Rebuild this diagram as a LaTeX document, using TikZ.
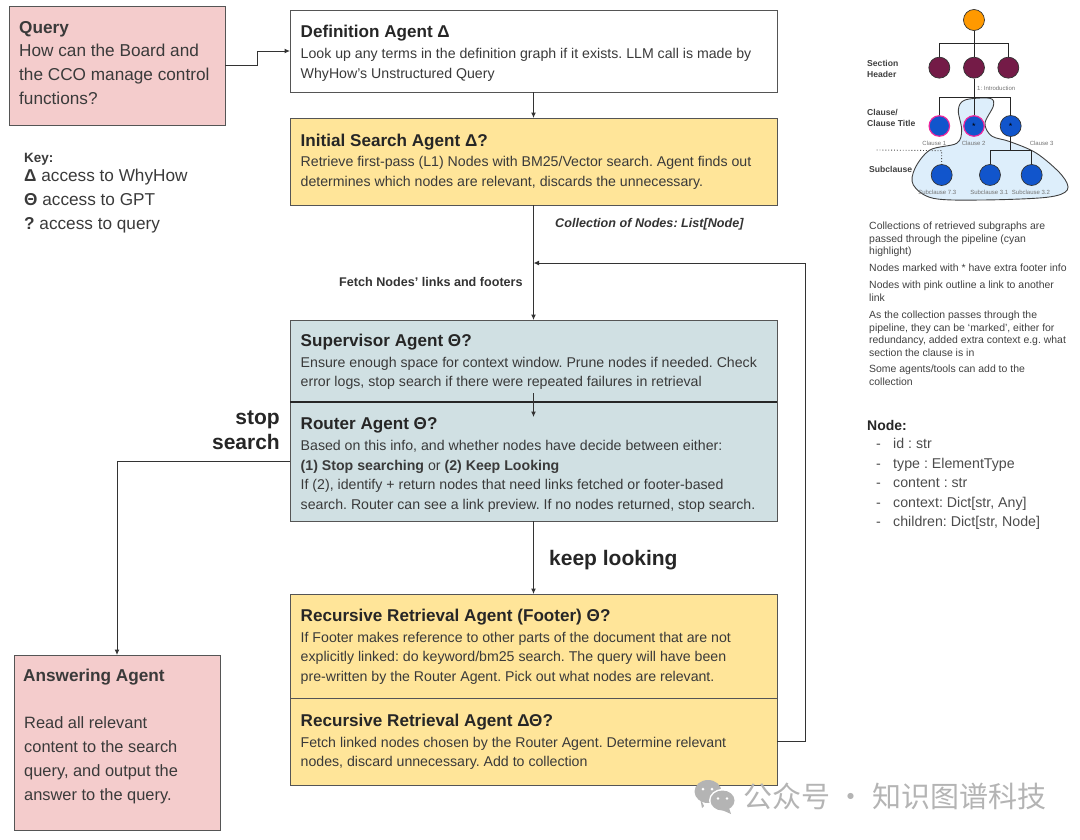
\documentclass[tikz,border=0pt]{standalone}
\usepackage{fontspec}
\setmainfont{Liberation Sans}
\newfontfamily\cjkf{Noto Sans CJK SC}
\usetikzlibrary{arrows.meta,calc}
\definecolor{pinkbox}{HTML}{F4CCCC}
\definecolor{yelbox}{HTML}{FFE599}
\definecolor{bluebox}{HTML}{D0E0E3}
\definecolor{inkc}{HTML}{3A3A3A}
\definecolor{edgec}{HTML}{555555}
\definecolor{sectc}{HTML}{741B47}
\definecolor{clausec}{HTML}{1155CC}
\definecolor{blobc}{HTML}{DDEEFB}
\definecolor{rootc}{HTML}{FF9900}
\definecolor{wm}{HTML}{B4B4B4}
\newcommand{\fs}[2]{\fontsize{#1}{#2}\selectfont}
\tikzset{
 x=1pt,y=-1pt,
 boxn/.style={draw=edgec,line width=1pt,inner sep=0pt,outer sep=0pt},
 txt/.style={anchor=north west,inner sep=0pt,align=left,text=inkc},
 ttl/.style={txt,font=\fs{17.1}{19}\bfseries,text=black!85},
 body/.style={txt,font=\fs{14.15}{19.5}},
 conn/.style={draw=black!80,line width=1pt,-{Latex[length=5.5pt,width=5pt]}},
 treeline/.style={draw=black!85,line width=0.9pt},
 tn/.style={circle,draw=black!80,line width=0.7pt,minimum size=21pt,inner sep=0pt},
 pk/.style={tn,draw=magenta!85,line width=1.2pt,minimum size=20.5pt},
 tiny/.style={inner sep=0pt,font=\fs{6}{7},text=black!55},
 side/.style={txt,font=\fs{10.45}{12.6},text=black!75},
 lside/.style={txt,font=\bfseries\fs{8.6}{11.5},text=black!75},
}
\newcommand{\bx}[6]{\node[boxn,fill=#2,minimum width=#5-#3,minimum height=#6-#4] (#1) at ({(#3+#5)/2},{(#4+#6)/2}) {};}
\begin{document}
\frenchspacing
\begin{tikzpicture}
\useasboundingbox (0,0) rectangle (1080,839);
\bx{query}{pinkbox}{9}{6}{225}{125}
\bx{def}{white}{290}{10}{777}{92}
\bx{init}{yelbox}{290}{118}{777}{205}
\bx{sup}{bluebox}{290}{320}{777}{402}
\bx{router}{bluebox}{290}{402}{777}{521}
\bx{rone}{yelbox}{290}{594}{777}{698}
\bx{rtwo}{yelbox}{290}{698}{777}{785}
\bx{answer}{pinkbox}{14}{655}{220}{830}
\draw[black!85,line width=1.8pt] (sup.south west) -- (sup.south east);
% texts
\node[txt,font=\fs{17.2}{23.6}] (tq) at (19,21) {\textbf{Query}\\How can the Board and\\the CCO manage control\\functions?};
\node[ttl] (t1) at (300.5,25) {Definition Agent Δ};
\node[body] (b1) at (300.5,48.5) {Look up any terms in the definition graph if it exists. LLM call is made by\\WhyHow’s Unstructured Query};
\node[ttl] (t2) at (300.5,134) {Initial Search Agent Δ?};
\node[body] (b2) at (300.5,156.5) {Retrieve first-pass (L1) Nodes with BM25/Vector search. Agent finds out\\determines which nodes are relevant, discards the unnecessary.};
\node[ttl] (t3) at (300.5,334) {Supervisor Agent Θ?};
\node[body] (b3) at (300.5,357) {Ensure enough space for context window. Prune nodes if needed. Check\\error logs, stop search if there were repeated failures in retrieval};
\node[ttl] (t4) at (300.5,417) {Router Agent Θ?};
\node[body] (b4) at (300.5,440.5) {Based on this info, and whether nodes have decide between either:\\\textbf{(1) Stop searching} or \textbf{(2) Keep Looking}\\If (2), identify + return nodes that need links fetched or footer-based\\search. Router can see a link preview. If no nodes returned, stop search.};
\node[ttl] (t5) at (300.5,609) {Recursive Retrieval Agent (Footer) Θ?};
\node[body] (b5) at (300.5,632) {If Footer makes reference to other parts of the document that are not\\explicitly linked: do keyword/bm25 search. The query will have been\\pre-written by the Router Agent. Pick out what nodes are relevant.};
\node[ttl] (t6) at (300.5,714) {Recursive Retrieval Agent ΔΘ?};
\node[body] (b6) at (300.5,737) {Fetch linked nodes chosen by the Router Agent. Determine relevant\\nodes, discard unnecessary. Add to collection};
\node[txt,font=\fs{17.2}{19}\bfseries] (t7) at (23,669) {Answering Agent};
\node[txt,font=\fs{16.4}{24.3}] (b7) at (24,716) {Read all relevant\\content to the search\\query, and output the\\answer to the query.};
% key
\node[txt,font=\fs{13.5}{16}\bfseries] (k0) at (24,153) {Key:};
\node[txt,font=\fs{17.2}{24}] (k1) at (24,169) {\textbf{Δ} access to WhyHow\\\textbf{Θ} access to GPT\\\textbf{?} access to query};
% connectors
\coordinate (qj) at ($(query.east)+(32,0)$);
\coordinate (fb) at (533.5,263);
\draw[conn] (query.east) -- (qj) |- (def.west);
\draw[conn] (def.south) -- (init.north);
\draw[conn] (init.south) -- (sup.north);
\coordinate (sj) at (533.5,393);
\coordinate (rj) at (533.5,417);
\draw[conn] (sj) -- (rj);
\draw[conn] (router.south) -- (rone.north);
\draw[conn] (router.west) -| (answer.north);
\coordinate (fx) at (805,263);
\draw[conn] (rtwo.east) -| (fx) -- (fb);
% connector labels
\node[inner sep=0pt,anchor=west,font=\fs{12.6}{14}\bfseries\itshape,text=black!80] (l1) at (555,224) {Collection of Nodes: List[Node]};
\node[inner sep=0pt,anchor=west,font=\fs{12.6}{14}\bfseries,text=black!80] (l2) at (339,282) {Fetch Nodes’ links and footers};
\node[inner sep=0pt,anchor=north east,align=right,font=\fs{21}{24.5}\bfseries,text=black!85] (l3) at (280,411) {stop\\search};
\node[inner sep=0pt,anchor=west,font=\fs{21}{24}\bfseries,text=black!85] (l4) at (549,560) {keep looking};
% tree
\begin{scope}[shift={(850,0)},x=0.3333pt,y=-0.3333pt]
\fill[blobc] plot[smooth cycle,tension=0.55] coordinates {(325,330) (345,300) (420,295) (430,318) (405,370) (425,408) (480,425) (560,460) (635,525) (652,570) (590,592) (400,600) (250,595) (190,555) (195,505) (240,450) (320,430) (335,390)};
\draw[black!75,line width=0.9pt] plot[smooth cycle,tension=0.55] coordinates {(325,330) (345,300) (420,295) (430,318) (405,370) (425,408) (480,425) (560,460) (635,525) (652,570) (590,592) (400,600) (250,595) (190,555) (195,505) (240,450) (320,430) (335,390)};
\node[tn,fill=rootc] (root) at (372,60) {};
\node[tn,fill=sectc] (s1) at (268,203) {};
\node[tn,fill=sectc] (s2) at (372,203) {};
\node[tn,fill=sectc] (s3) at (475,203) {};
\node[pk,fill=clausec] (c1) at (268,378) {};
\node[pk,fill=clausec] (c2) at (372,378) {\fs{9}{9}*};
\node[tn,fill=clausec] (c3) at (482,378) {\fs{9}{9}*};
\node[tn,fill=clausec] (d1) at (275,525) {};
\node[tn,fill=clausec] (d2) at (420,525) {};
\node[tn,fill=clausec] (d3) at (545,525) {};
\coordinate (j0) at (372,131);
\coordinate (j1) at (372,292);
\coordinate (j2) at (482,452);
\coordinate (j3) at (275,452);
\coordinate (j4) at (80,450);
\draw[treeline] (root) -- (j0) (s1) |- (j0) -| (s3) (j0) -- (s2);
\draw[treeline] (s2) -- (c2) (c1) |- (j1) -| (c3);
\draw[treeline] (c3) -- (j2) (d2) |- (j2) -| (d3);
\draw[black!70,line width=0.9pt,dotted] (j4) -- (j3) -- (d1);
\node[tiny] (n0) [anchor=west] at (381,264) {1: Introduction};
\node[tiny] (n1) at (253,430) {Clause 1};
\node[tiny] (n2) at (371,430) {Clause 2};
\node[tiny] (n3) at (575,430) {Clause 3};
\node[tiny] (n4) at (262,576) {Subclause 7.3};
\node[tiny] (n5) at (418,576) {Subclause 3.1};
\node[tiny] (n6) at (543,576) {Subclause 3.2};
\end{scope}
\node[lside] (h1) at (867,60) {Section\\Header};
\node[lside] (h2) at (867,109) {Clause/\\Clause Title};
\node[lside] (h3) at (869,166) {Subclause};
% side text
\node[side] (p1) at (869,222) {Collections of retrieved subgraphs are\\passed through the pipeline (cyan\\highlight)};
\node[side] (p2) at (869,264) {Nodes marked with * have extra footer info};
\node[side] (p3) at (869,281) {Nodes with pink outline a link to another\\link};
\node[side] (p4) at (869,311) {As the collection passes through the\\pipeline, they can be ‘marked’, either for\\redundancy, added extra context e.g. what\\section the clause is in};
\node[side] (p5) at (869,365) {Some agents/tools can add to the\\collection};
\node[txt,font=\fs{14}{16}\bfseries,text=black!85] (nt) at (867,420) {Node:};
\node[txt,font=\fs{14.2}{19.6},text=black!70] (nl) at (876,438) {-\hspace{12.3pt}id : str\\-\hspace{12.3pt}type : ElementType\\-\hspace{12.3pt}content : str\\-\hspace{12.3pt}context: Dict[str, Any]\\-\hspace{12.3pt}children: Dict[str, Node]};
% watermark
\begin{scope}[wm]
\fill (708,791.5) ellipse [x radius=13.5,y radius=11.5];
\fill (704,806) -- (702,808) -- (700,798) -- cycle;
\fill[white] (722.5,800.5) ellipse [x radius=13.5,y radius=11.5];
\fill (722.5,800.5) ellipse [x radius=12,y radius=10];
\fill (729,808) -- (731,814) -- (722,810) -- cycle;
\fill[white] (703,789) circle (1.5) (712,789) circle (1.5) (718,798.5) circle (1.3) (727,798.5) circle (1.3);
\end{scope}
\node[inner sep=0pt,anchor=west,text=wm,font=\cjkf\fs{29}{30}] (wmt) at (743,796) {公众号 · 知识图谱科技};
\end{tikzpicture}
\end{document}
